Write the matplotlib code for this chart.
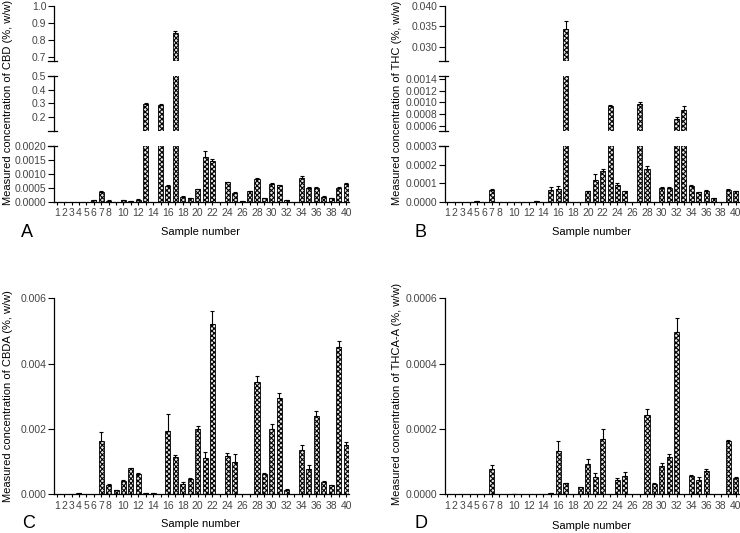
import matplotlib
matplotlib.use("Agg")
import matplotlib.pyplot as plt
import numpy as np

plt.rcParams.update({
    "font.family": ["Liberation Sans", "DejaVu Sans"],
    "font.size": 7.5,
    "hatch.linewidth": 0.8,
    "axes.linewidth": 0.9,
})

FIG_W, FIG_H = 740, 533
TICK_COLOR = "#444444"

samples = list(range(1, 41))
xtick_labels = [str(s) if (s <= 8 or s % 2 == 0) else "" for s in samples]

cbd = [0, 0, 0, 0, 0, 0.00005, 0.00035, 0.00004, 0, 0.00005,
       0.00002, 0.00007, 0.295, 0, 0.285, 0.00058, 0.84, 0.00018, 0.00014, 0.00045,
       0.0016, 0.00146, 0, 0.0007, 0.00031, 0.00001, 0.00038, 0.00081, 0.00014, 0.00064,
       0.00059, 0.00005, 0, 0.00086, 0.00049, 0.0005, 0.00018, 0.00014, 0.0005, 0.00064]
cbd_err = [0, 0, 0, 0, 0, 0.00001, 0.00003, 0.00001, 0, 0.00001,
           0.00001, 0.00001, 0.006, 0, 0.008, 0.00003, 0.012, 0.00001, 0.00001, 0.00002,
           0.00022, 0.00009, 0, 0.00002, 0.00003, 0, 0.00001, 0.00005, 0.00001, 0.00002,
           0.00002, 0.00001, 0, 0.00005, 0.00002, 0.00002, 0.00001, 0.00001, 0.00002, 0.00002]

thc = [0, 0, 0, 0, 0.000002, 0, 0.000065, 0, 0, 0,
       0, 0, 0.000002, 0, 0.000065, 0.00007, 0.03425, 0, 0, 0.000055,
       0.000117, 0.000165, 0.00094, 0.00009, 0.000055, 0, 0.00098, 0.000174, 0, 0.000075,
       0.000075, 0.00072, 0.00087, 0.000085, 0.00005, 0.00006, 0.00002, 0, 0.000065, 0.000055]
thc_err = [0, 0, 0, 0, 0, 0, 0.000004, 0, 0, 0,
           0, 0, 0, 0, 0.000015, 0.000012, 0.0021, 0, 0, 0.000003,
           0.00003, 0.000013, 0.00002, 0.00001, 0.000005, 0, 0.00002, 0.000016, 0, 0.000005,
           0.000004, 0.00004, 0.00007, 0.000005, 0.000004, 0.000005, 0.000002, 0, 0.000003, 0.000003]

cbda = [0, 0, 0, 0.00003, 0, 0, 0.00163, 0.0003, 0.00012, 0.0004,
        0.0008, 0.00063, 0.00003, 0.00005, 0, 0.00195, 0.00115, 0.00033, 0.00048, 0.002,
        0.00112, 0.0052, 0, 0.00118, 0.001, 0, 0, 0.00345, 0.00062, 0.002,
        0.00295, 0.00012, 0, 0.00137, 0.00078, 0.0024, 0.00038, 0.00028, 0.0045, 0.0015]
cbda_err = [0, 0, 0, 0, 0, 0, 0.00027, 0.00002, 0.00001, 0.00004,
            0.00002, 0.00001, 0, 0, 0, 0.0005, 0.00005, 0.00005, 0.00001, 0.0001,
            0.00018, 0.0004, 0, 0.00007, 0.00022, 0, 0, 0.00018, 0.00002, 0.00015,
            0.00015, 0.00005, 0, 0.00013, 0.00012, 0.00015, 0.00002, 0.00001, 0.0002, 0.0001]

thca = [0, 0, 0, 0, 0, 0, 0.000078, 0, 0, 0.000001,
        0, 0, 0, 0, 0.000003, 0.000133, 0.000034, 0, 0.000022, 0.000092,
        0.000053, 0.000169, 0, 0.000044, 0.000056, 0, 0, 0.000243, 0.000033, 0.000087,
        0.000113, 0.000498, 0, 0.000055, 0.000045, 0.00007, 0, 0, 0.000163, 0.00005]
thca_err = [0, 0, 0, 0, 0, 0, 0.000011, 0, 0, 0,
            0, 0, 0, 0, 0, 0.00003, 0.000002, 0, 0.000001, 0.000015,
            0.000011, 0.00003, 0, 0.000007, 0.000012, 0, 0, 0.000017, 0.000002, 0.00001,
            0.00001, 0.000042, 0, 0.000005, 0.000008, 0.000007, 0, 0, 0.000002, 0.000003]


def px_axes(fig, left, right, top, bottom):
    return fig.add_axes([left / FIG_W, 1 - bottom / FIG_H,
                         (right - left) / FIG_W, (bottom - top) / FIG_H])


def draw_bars(ax, values, errs):
    vals = np.array(values)
    errs = np.array(errs)
    ax.bar(samples, vals, width=0.68, facecolor="#e8e8e8", edgecolor="black",
           linewidth=0.6, hatch="xxxxxxx", zorder=2)
    mask = vals > 0
    ax.errorbar(np.array(samples)[mask], vals[mask],
                yerr=[np.zeros(mask.sum()), errs[mask]],
                fmt="none", ecolor="black", elinewidth=0.8, capsize=1.5,
                capthick=0.8, zorder=3)
    ax.set_xlim(0.64, 40.4)
    for s in ["top", "right"]:
        ax.spines[s].set_visible(False)
    ax.tick_params(axis="y", direction="out", length=4, width=0.8,
                   labelsize=7.5, labelcolor=TICK_COLOR, pad=1.5)


def style_xaxis(ax):
    ax.set_xticks(samples)
    ax.set_xticklabels(xtick_labels)
    ax.tick_params(axis="x", direction="out", length=2.5, width=0.8,
                   labelsize=7.5, labelcolor=TICK_COLOR, pad=2)


def cap(ax, y):
    w = ax.get_position().width * FIG_W
    ax.plot([-6 / w, 3 / w], [y, y], transform=ax.transAxes, color="black",
            linewidth=0.9, clip_on=False, zorder=4)


def broken_panel(fig, left, right, values, errs, segs):
    # segs: list of (top_px, bottom_px, ylim, ticks, labels), top to bottom
    axes = []
    n = len(segs)
    for i, (top, bot, ylim, ticks, labels) in enumerate(segs):
        ax = px_axes(fig, left, right, top, bot)
        draw_bars(ax, values, errs)
        ax.set_ylim(*ylim)
        ax.set_yticks(ticks)
        ax.set_yticklabels(labels)
        if i < n - 1:
            ax.spines["bottom"].set_visible(False)
            ax.set_xticks([])
            cap(ax, 0)
        else:
            style_xaxis(ax)
        if i > 0:
            cap(ax, 1)
        axes.append(ax)
    return axes


def single_panel(fig, left, right, values, errs, ylim, ticks, labels):
    ax = px_axes(fig, left, right, 298.3, 494.3)
    draw_bars(ax, values, errs)
    ax.set_ylim(*ylim)
    ax.set_yticks(ticks)
    ax.set_yticklabels(labels)
    style_xaxis(ax)
    return ax


fig = plt.figure(figsize=(FIG_W / 100, FIG_H / 100), dpi=100)

SEG_PX = [(5.7, 61), (75.7, 131), (146, 201.7)]

broken_panel(fig, 54, 349, cbd, cbd_err, [
    (*SEG_PX[0], (0.675, 1.0), [0.7, 0.8, 0.9, 1.0], ["0.7", "0.8", "0.9", "1.0"]),
    (*SEG_PX[1], (0.1, 0.5), [0.2, 0.3, 0.4, 0.5], ["0.2", "0.3", "0.4", "0.5"]),
    (*SEG_PX[2], (0, 0.002), [0, 0.0005, 0.001, 0.0015, 0.002],
     ["0.0000", "0.0005", "0.0010", "0.0015", "0.0020"]),
])

broken_panel(fig, 444.7, 738.7, thc, thc_err, [
    (*SEG_PX[0], (0.0265, 0.040), [0.030, 0.035, 0.040], ["0.030", "0.035", "0.040"]),
    (*SEG_PX[1], (0.00052, 0.00145), [0.0006, 0.0008, 0.0010, 0.0012, 0.0014],
     ["0.0006", "0.0008", "0.0010", "0.0012", "0.0014"]),
    (*SEG_PX[2], (0, 0.0003), [0, 0.0001, 0.0002, 0.0003],
     ["0.0000", "0.0001", "0.0002", "0.0003"]),
])

single_panel(fig, 54, 349, cbda, cbda_err, (0, 0.006),
             [0, 0.002, 0.004, 0.006], ["0.000", "0.002", "0.004", "0.006"])

single_panel(fig, 444.7, 738.7, thca, thca_err, (0, 0.0006),
             [0, 0.0002, 0.0004, 0.0006], ["0.0000", "0.0002", "0.0004", "0.0006"])


def ftext(x, y, s, **kw):
    fig.text(x / FIG_W, 1 - y / FIG_H, s, **kw)


ftext(8, 102, "Measured concentration of CBD (%, w/w)", rotation=90,
      ha="center", va="center", fontsize=8)
ftext(397.5, 103, "Measured concentration of THC (%, w/w)", rotation=90,
      ha="center", va="center", fontsize=8)
ftext(8, 396, "Measured concentration of CBDA (%, w/w)", rotation=90,
      ha="center", va="center", fontsize=8)
ftext(397.5, 394, "Measured concentration of THCA-A (%, w/w)", rotation=90,
      ha="center", va="center", fontsize=8)

ftext(200.8, 232, "Sample number", ha="center", va="center", fontsize=8)
ftext(591.7, 232, "Sample number", ha="center", va="center", fontsize=8)
ftext(200.8, 524, "Sample number", ha="center", va="center", fontsize=8)
ftext(591.7, 526, "Sample number", ha="center", va="center", fontsize=8)

ftext(27, 232, "A", ha="center", va="center", fontsize=13)
ftext(421, 232, "B", ha="center", va="center", fontsize=13)
ftext(29, 524, "C", ha="center", va="center", fontsize=13)
ftext(421, 524, "D", ha="center", va="center", fontsize=13)

fig.savefig("out.png", dpi=100)
